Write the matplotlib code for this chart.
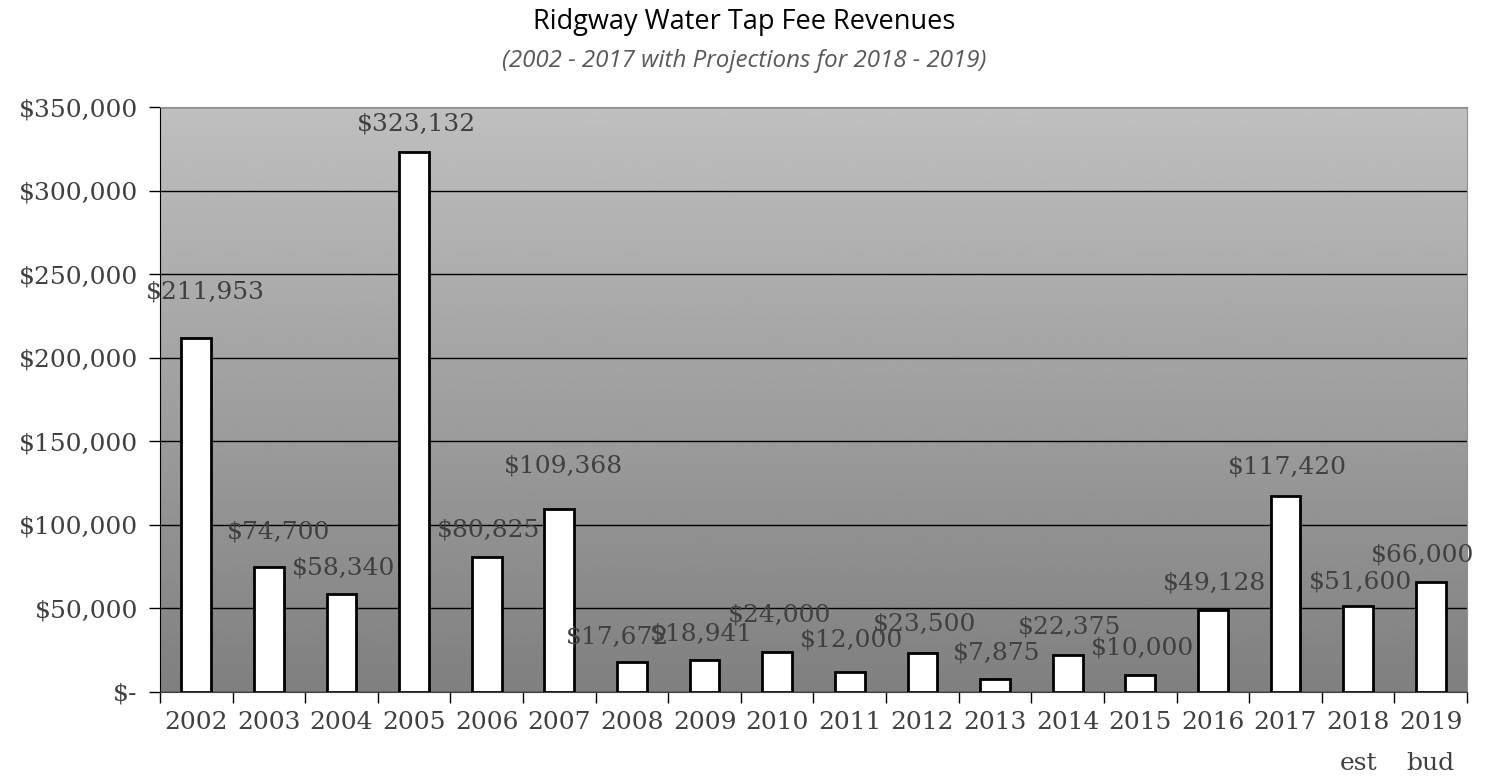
import numpy as np
import matplotlib
matplotlib.use("Agg")
import matplotlib.pyplot as plt
from matplotlib.ticker import FuncFormatter

years = ["2002", "2003", "2004", "2005", "2006", "2007", "2008", "2009", "2010",
         "2011", "2012", "2013", "2014", "2015", "2016", "2017", "2018\nest", "2019\nbud"]
revenues = [211953, 74700, 58340, 323132, 80825, 109368, 17672, 18941, 24000,
            12000, 23500, 7875, 22375, 10000, 49128, 117420, 51600, 66000]

# label offsets from bar top (pixels), as the labels sit in the original
label_dx = [9, 10, 2, 2, 2, 4, -14, -3, 2, 2, 2, 2, 2, 2, 2, 2, 2, -8]
label_dy = [46, 35, 26, 28, 27, 43, 25, 26, 37, 32, 29, 26, 28, 27, 27, 29, 24, 27]

serif = "DejaVu Serif"
txt_col = "#404040"

fig = plt.figure(figsize=(14.89, 7.78), dpi=100)
ax = fig.add_axes([160 / 1489, 1 - 692 / 778, 1307 / 1489, 585 / 778])

# gradient background
grad = np.linspace(0.75, 0.50, 256).reshape(-1, 1)
ax.imshow(grad, cmap="gray", vmin=0, vmax=1, aspect="auto",
          extent=(0, 1, 0, 1), transform=ax.transAxes, zorder=0)

x = np.arange(len(years))
ax.bar(x, revenues, width=0.41, color="white", edgecolor="black", linewidth=2, zorder=3)

ax.set_xlim(-0.5, len(years) - 0.5)
ax.set_ylim(0, 350000)
ax.set_yticks(np.arange(0, 350001, 50000))
ax.yaxis.set_major_formatter(FuncFormatter(lambda v, p: "$-" if v == 0 else f"${v:,.0f}"))
ax.grid(axis="y", color="black", linewidth=1, zorder=1)
ax.set_axisbelow(False)

ax.set_xticks(x)
ax.set_xticklabels(years)
ax.set_xticks(np.arange(-0.5, len(years), 1), minor=True)
ax.tick_params(axis="x", which="major", length=0, pad=14)
ax.tick_params(axis="x", which="minor", length=8, width=1, color="black")
ax.tick_params(axis="y", length=8, width=1, color="black", pad=8)

for lab in ax.get_xticklabels() + ax.get_yticklabels():
    lab.set_fontfamily(serif)
    lab.set_fontsize(18)
    lab.set_color(txt_col)
    lab.set_linespacing(2.0)

for s in ["top", "right"]:
    ax.spines[s].set_color("#909090")
ax.spines["left"].set_color("black")
ax.spines["bottom"].set_color("#404040")
for s in ax.spines.values():
    s.set_zorder(4)

for xi, v, dx, dy in zip(x, revenues, label_dx, label_dy):
    ax.annotate(f"${v:,}", (xi, v), xytext=(dx, dy), textcoords="offset pixels",
                ha="center", va="center", fontfamily=serif, fontsize=18,
                color="#404040", zorder=5)

fig.text(0.5, 1 - 22 / 778, "Ridgway Water Tap Fee Revenues", ha="center", va="center",
         fontfamily="Open Sans", fontsize=19.5, color="black")
fig.text(0.5, 1 - 61 / 778, "(2002 - 2017 with Projections for 2018 - 2019)", ha="center",
         va="center", fontfamily="Open Sans", fontstyle="italic", fontsize=17.4, color="#595959")

fig.savefig("out.png", dpi=100)
